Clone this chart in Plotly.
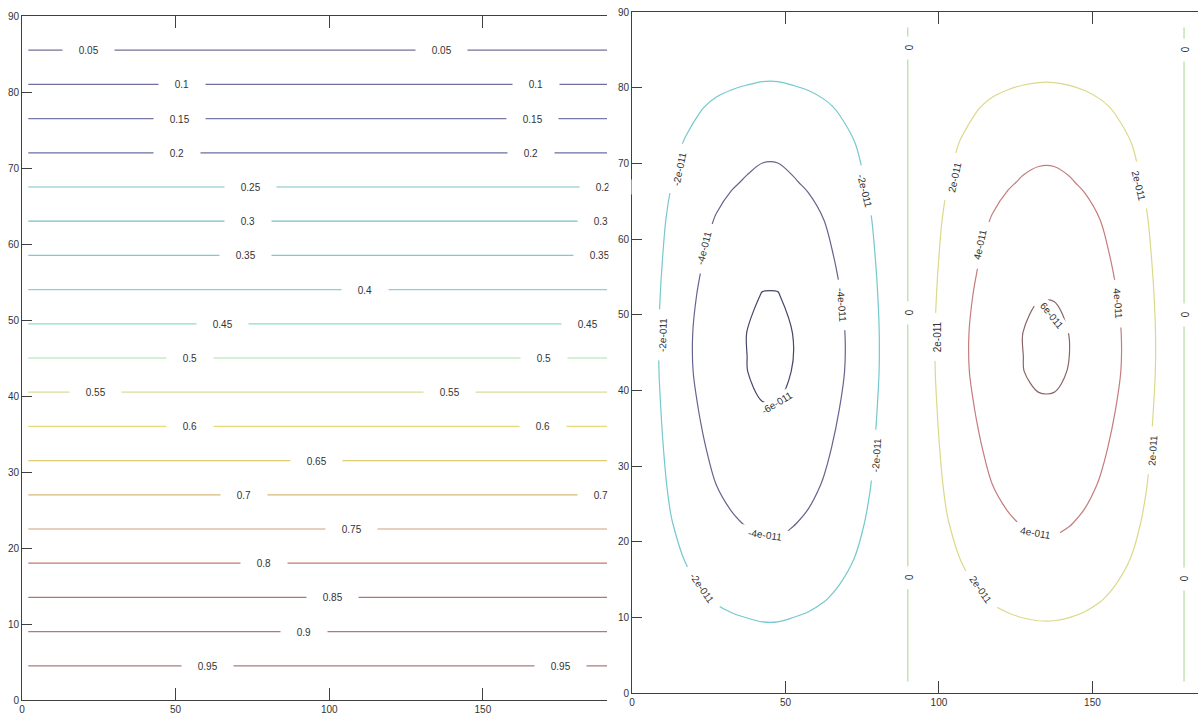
import plotly.graph_objects as go

# ---------------- LEFT PANEL DATA ----------------
# coarse grid of the field: value 1 along the bottom edge, 0 along the top edge
left_x = [2, 191]
left_y = [0, 90]
left_z = [[1.0, 1.0],
          [0.0, 0.0]]

left_levels = [0.05, 0.10, 0.15, 0.20, 0.25, 0.30, 0.35, 0.40, 0.45, 0.50,
               0.55, 0.60, 0.65, 0.70, 0.75, 0.80, 0.85, 0.90, 0.95]
left_level_text = ["0.05", "0.1", "0.15", "0.2", "0.25", "0.3", "0.35", "0.4", "0.45", "0.5",
                   "0.55", "0.6", "0.65", "0.7", "0.75", "0.8", "0.85", "0.9", "0.95"]
left_level_colors = ["#727294", "#70709a", "#7878a4", "#68709c", "#7cc4c8", "#70c0cc",
                     "#7ccad6", "#84d4dc", "#8cdcc8", "#ace4a8", "#dade96", "#e4dc74",
                     "#e0cc74", "#d8b87a", "#caa47a", "#c27a6c", "#b87474", "#b07878",
                     "#a87c80"]

# where the in-line labels sit along each line (x, data units)
left_label_x = [[21.7, 136.6], [52.0, 167.3], [51.1, 166.1], [50.4, 165.6],
                [74.5, 190.0], [73.5, 188.4], [72.6, 187.8], [111.6], [65.1, 184.2],
                [54.7, 169.9], [23.8, 139.0], [54.7, 169.5], [95.7], [72.2, 188.4],
                [107.4], [78.8], [101.2], [91.8], [60.4, 175.4]]

# ---------------- RIGHT PANEL DATA ----------------
right_x = [2.5, 7.5, 12.5, 17.5, 22.5, 27.5, 32.5, 37.5, 42.5, 47.5, 52.5, 57.5,
           62.5, 67.5, 72.5, 77.5, 82.5, 87.5, 92.5, 97.5, 102.5, 107.5, 112.5,
           117.5, 122.5, 127.5, 132.5, 137.5, 142.5, 147.5, 152.5, 157.5, 162.5,
           167.5, 172.5, 177.5, 182.5]
right_y = [1.5, 7.5, 12.5, 17.5, 22.5, 27.5, 32.5, 37.5, 42.5, 47.5, 52.5, 57.5,
           62.5, 67.5, 72.5, 77.5, 82.5, 88.0]
amplitude = 6.5e-11
# profiles of the field
cell_left = [0.09, 0.27, 0.44, 0.57, 0.69, 0.80, 0.88, 0.94, 0.99, 0.99, 0.935,
             0.87, 0.78, 0.67, 0.55, 0.41, 0.25, 0.08]
cell_right = [0.09, 0.27, 0.44, 0.57, 0.69, 0.80, 0.88, 0.94, 0.975, 0.975, 0.935,
              0.87, 0.78, 0.67, 0.55, 0.41, 0.25, 0.08]
y_profile = [0.05, 0.25, 0.41, 0.55, 0.67, 0.77, 0.85, 0.92, 0.98, 0.985, 0.94,
             0.87, 0.79, 0.675, 0.57, 0.43, 0.25, 0.04]

right_levels = [-6e-11, -4e-11, -2e-11, 0, 2e-11, 4e-11, 6e-11]
right_level_colors = ["#46466a", "#64648e", "#74c8ce", "#b4dca0", "#dcd88a",
                      "#c47c7c", "#8a6464"]

right_labels = [
    ("-2e-011", 15.6, 69.2, -78), ("-2e-011", 75.9, 66.4, 76),
    ("-4e-011", 23.5, 58.8, -76), ("-4e-011", 68.4, 51.3, 86),
    ("-2e-011", 10.1, 47.3, -88), ("-6e-011", 47.2, 38.3, -31),
    ("-2e-011", 79.8, 31.4, -86), ("-4e-011", 43.3, 20.9, 8),
    ("-2e-011", 22.8, 13.9, 55),
    ("2e-011", 105.2, 68.2, -78), ("2e-011", 165.1, 67.0, 76),
    ("4e-011", 113.4, 59.2, -78), ("4e-011", 158.3, 51.4, 86),
    ("2e-011", 99.7, 47.0, -90), ("6e-011", 136.8, 49.8, 51),
    ("2e-011", 169.7, 32.1, -86), ("4e-011", 131.6, 21.1, 10),
    ("2e-011", 113.7, 13.6, 55),
    ("0", 90, 85.2, 90), ("0", 90, 50.2, 90), ("0", 90, 15.2, 90),
    ("0", 180, 84.9, 90), ("0", 180, 49.9, 90), ("0", 180, 15.0, 90),
]

# ---------------- BUILD ----------------
W, H = 1201, 717
x_profile = [-a for a in cell_left] + cell_right + [-cell_left[0]]
right_z = [[amplitude * vy * ux for ux in x_profile] for vy in y_profile]


def scale_from(levels, colors):
    lo, hi = levels[0], levels[-1]
    return [[(lv - lo) / (hi - lo), c] for lv, c in zip(levels, colors)]


def text_w(s):
    w = {".": 2.78, "-": 3.33}
    return sum(w.get(ch, 5.56) for ch in s) * 1.0


fig = go.Figure()
fig.add_trace(go.Contour(
    x=left_x, y=left_y, z=left_z, xaxis="x", yaxis="y",
    contours=dict(coloring="lines", start=left_levels[0], end=left_levels[-1],
                  size=0.05, showlabels=False),
    colorscale=scale_from(left_levels, left_level_colors),
    line=dict(width=1.2), showscale=False, hoverinfo="skip"))

fig.add_trace(go.Contour(
    x=right_x, y=right_y, z=right_z, xaxis="x2", yaxis="y2",
    contours=dict(coloring="lines", start=right_levels[0], end=right_levels[-1],
                  size=2e-11, showlabels=False),
    colorscale=scale_from(right_levels, right_level_colors),
    line=dict(width=1.2, smoothing=0.9), showscale=False, hoverinfo="skip"))

annotations = []
lab_font = dict(family="Liberation Sans, Arial, sans-serif", size=10, color="#333333")
z0, z1 = left_z[0][0], left_z[1][0]
for lv, txt, xs in zip(left_levels, left_level_text, left_label_x):
    yv = left_y[0] + (lv - z0) / (z1 - z0) * (left_y[1] - left_y[0])
    for xv in xs:
        annotations.append(dict(x=xv, y=yv, xref="x", yref="y", text=txt,
                                showarrow=False, font=lab_font, bgcolor="white",
                                width=text_w(txt) + 30, height=12,
                                xanchor="center", yanchor="middle"))

# crop labels at the right edge of the left panel
annotations.append(dict(x=607.6 / W, y=1 - 340 / H, xref="paper", yref="paper",
                        text=" ", showarrow=False, bgcolor="white", width=8,
                        height=330, xanchor="left", yanchor="middle", borderpad=0))

for txt, xv, yv, ang in right_labels:
    annotations.append(dict(x=xv, y=yv, xref="x2", yref="y2", text=txt,
                            showarrow=False, font=lab_font, bgcolor="white",
                            width=text_w(txt) + 14, height=12, textangle=ang,
                            xanchor="center", yanchor="middle"))

axis_common = dict(showgrid=False, zeroline=False, showline=True,
                   linecolor="#404040", linewidth=1, ticks="inside",
                   tickcolor="#404040", tickwidth=1, automargin=False,
                   tickfont=dict(family="Liberation Sans, Arial, sans-serif",
                                 size=10, color="#333333"))
x_ticks = [0, 50, 100, 150]
y_ticks = [0, 10, 20, 30, 40, 50, 60, 70, 80, 90]

fig.update_layout(
    width=W, height=H, margin=dict(l=0, r=0, t=0, b=0),
    paper_bgcolor="white", plot_bgcolor="white", showlegend=False,
    xaxis=dict(domain=[22 / W, 607 / W], range=[0, 190.4], anchor="y",
               tickvals=x_ticks, ticklen=12, mirror="ticks", **axis_common),
    yaxis=dict(domain=[1 - 700 / H, 1 - 16 / H], range=[0, 90], anchor="x",
               tickvals=y_ticks, ticklen=10, **axis_common),
    xaxis2=dict(domain=[632 / W, 1198 / W], range=[0, 184.4], anchor="y2",
                tickvals=x_ticks, ticklen=12, mirror="ticks", **axis_common),
    yaxis2=dict(domain=[1 - 693 / H, 1 - 12 / H], range=[0, 90], anchor="x2",
                tickvals=y_ticks, ticklen=10, **axis_common),
    annotations=annotations,
)

fig.write_html("out.html", config={"displayModeBar": False},
               post_script="document.body.style.margin='0';"
                           "document.body.style.overflow='hidden';")
